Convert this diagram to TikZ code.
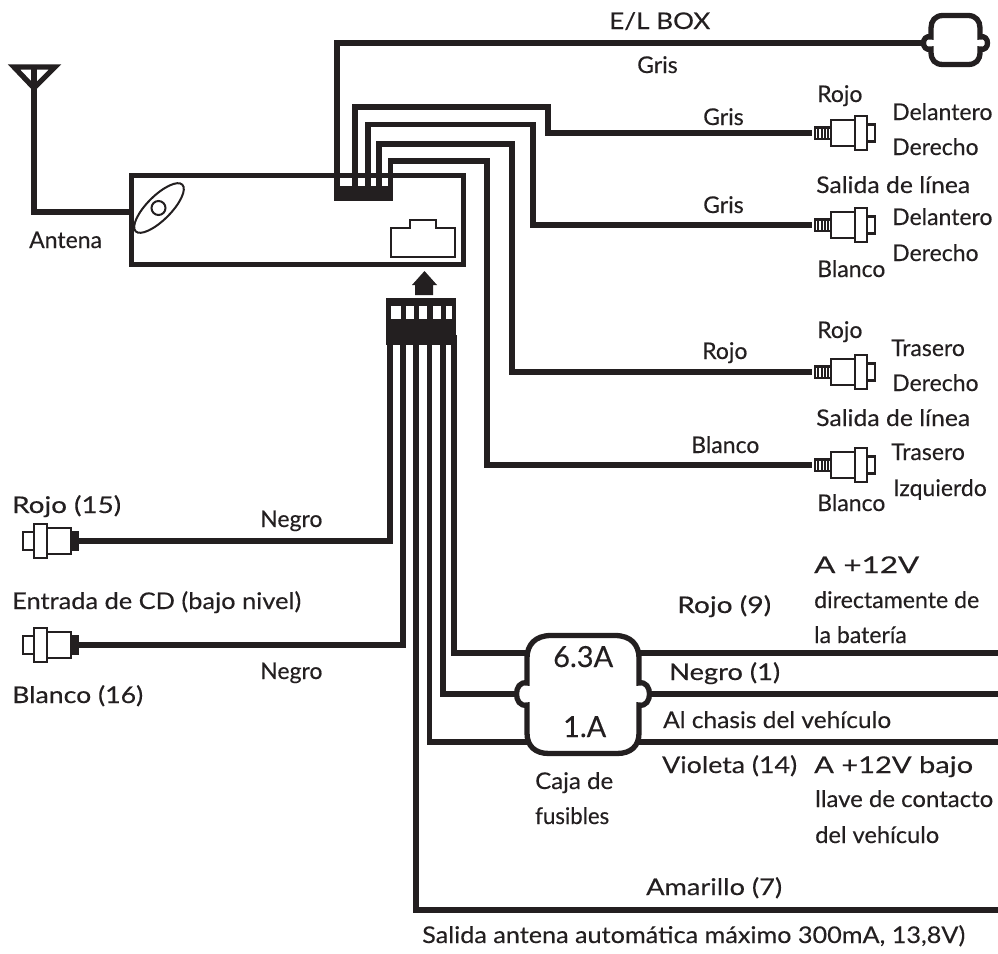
\documentclass[tikz,border=0pt]{standalone}
\usepackage{graphicx}
\usepackage{fontspec}
\setmainfont{Lato}[FakeBold=0.25]
\definecolor{ink}{HTML}{231F20}
\newcommand\fitw[2]{\resizebox{#1pt}{\height}{#2}}
\tikzset{
 x=1pt,y=-1pt,
 wire/.style={line width=5.3pt,draw=ink,line join=miter},
 lbl/.style={text=ink,font=\fontsize{23}{26}\selectfont,inner sep=0pt,anchor=base west},
 fuselbl/.style={lbl,font=\fontsize{29}{32}\selectfont},
 jackbody/.style={line width=2.2pt,draw=ink,fill=white},
 jackright/.pic={
  \foreach \i in {0,1,2,3,4}{\fill[ink] (\i*3.3,-7) rectangle ++(2,14);}
  \fill[ink] (0,-7) rectangle (17,-4.5); \fill[ink] (0,4.5) rectangle (17,7);
  \draw[jackbody] (17,-13) rectangle (41,13);
  \draw[jackbody] (41,-17) rectangle (53,17);
  \draw[jackbody] (53,-8.5) rectangle (61,8.5);
 },
 jackleft/.pic={
  \fill[ink] (-8,-10) rectangle (0,10);
  \draw[jackbody] (-32,-13) rectangle (-8,13);
  \draw[jackbody] (-45,-17) rectangle (-32,17);
  \draw[jackbody] (-56,-9) rectangle (-45,9);
 },
}
\begin{document}
\begin{tikzpicture}
\useasboundingbox (0,0) rectangle (998,953);
% named wire ends
\coordinate (ant) at (34,67);
\coordinate (radioL) at (131,212);
\foreach \n/\x in {a/337,b/355,c/368,d/379,e/390.5}{\coordinate (top\n) at (\x,190);}
\coordinate (elbox) at (926,43);
\coordinate (j1) at (812,133); \coordinate (j2) at (812,225);
\coordinate (j3) at (812,372); \coordinate (j4) at (812,465);
\coordinate (jl1) at (79,541); \coordinate (jl2) at (79,645);
\foreach \n/\x in {p/390,q/403,r/416,s/429.5,t/443,u/454}{\coordinate (bot\n) at (\x,335);}
\coordinate (amarilloEnd) at (998,910);
\coordinate (fuseTopR) at (998,653);\coordinate (fuseMidR) at (998,694);\coordinate (fuseLowR) at (998,742);
\coordinate (fuseTopL) at (530,653);\coordinate (fuseMidL) at (520,694);\coordinate (fuseLowL) at (530,742);
% antenna
\draw[wire] (radioL) -| (ant);
\draw[wire,fill=none,miter limit=10] (14,67) -- (55,67) -- (34,88) -- cycle;
% radio
\node[draw=ink,line width=5.3pt,fill=white,minimum width=332pt,minimum height=89pt,inner sep=0pt] (radio) at (297.5,220) {};
\draw[ink,line width=2pt,rotate around={45:(159,208)}] (159,208) ellipse (33 and 12);
\draw[ink,line width=2pt] (158.5,208) circle (7);
\draw[ink,line width=2pt,fill=white] (391,257) -- (391,228) -- (409.5,228) -- (409.5,220) -- (436,220) -- (436,228) -- (455,228) -- (455,257) -- cycle;
% top wires
\draw[wire] (topa) |- (elbox);
\draw[wire] (topb) |- (548,107) |- (j1);
\draw[wire] (topc) |- (533,124.5) |- (j2);
\draw[wire] (topd) |- (512,144) |- (j3);
\draw[wire] (tope) |- (487,161) |- (j4);
\fill[ink] (334,186) rectangle (393,201);
% E/L box
\draw[ink,line width=5.3pt,fill=white] (943,15.5) -- (968,15.5) .. controls (976,15.5) and (980,21) .. (980,28) -- (980,37) .. controls (990,34) and (990,52) .. (980,49) -- (980,52) .. controls (980,60) and (976,64.5) .. (968,64.5) -- (943,64.5) .. controls (935,64.5) and (931,60) .. (931,52) -- (931,49) .. controls (921,52) and (921,34) .. (931,37) -- (931,28) .. controls (931,21) and (935,15.5) .. (943,15.5) -- cycle;
% jacks
\foreach \c in {j1,j2,j3,j4}{\path (\c) ++(2,0) pic {jackright};}
\path (jl1) pic {jackleft};
\path (jl2) pic {jackleft};
% plug
\fill[ink] (412,285) -- (424.5,271) -- (437,285) -- (433,285) -- (433,295) -- (415,295) -- (415,285) -- cycle;
\fill[ink] (386,298) rectangle (456,345);
\foreach \x/\w in {391/10,406/7.5,419/8,433/7.5,446/6}{\fill[white] (\x,306) rectangle ++(\w,13);}
% bottom wires
\draw[wire] (botp) |- (jl1);
\draw[wire] (botq) |- (jl2);
\draw[wire] (botr) |- (amarilloEnd);
\draw[wire] (bots) |- (fuseLowL);
\draw[wire] (bott) |- (fuseMidL);
\draw[wire] (botu) |- (fuseTopL);
\draw[wire] (635,653) -- (fuseTopR);
\draw[wire] (645,694) -- (fuseMidR);
\draw[wire] (635,742) -- (fuseLowR);
% fuse box
\draw[ink,line width=5.3pt,fill=white] (551,635.5) -- (615,635.5) .. controls (631,635.5) and (639,645) .. (639,658) -- (639,683) .. controls (653,680) and (653,708) .. (639,705) -- (639,733) .. controls (639,746) and (631,753.5) .. (617,753.5) -- (549,753.5) .. controls (535,753.5) and (527,746) .. (527,733) -- (527,705) .. controls (513,708) and (513,680) .. (527,683) -- (527,658) .. controls (527,645) and (535,635.5) .. (551,635.5) -- cycle;
% labels
\node[lbl] (l1) at (609,29) {\fitw{101}{E/L BOX}};
\node[lbl] (l2) at (637,73) {Gris};
\node[lbl] (l3) at (703,125) {Gris};
\node[lbl] (l4) at (703,213) {Gris};
\node[lbl] (l5) at (702,359) {Rojo};
\node[lbl] (l6) at (691,453) {Blanco};
\node[lbl] (l7) at (817,102) {Rojo};
\node[lbl] (l8) at (892,120) {Delantero};
\node[lbl] (l9) at (892,155) {Derecho};
\node[lbl] (l10) at (816,193) {\fitw{154}{Salida de línea}};
\node[lbl] (l11) at (892,225) {Delantero};
\node[lbl] (l12) at (892,261) {Derecho};
\node[lbl] (l13) at (817,277) {Blanco};
\node[lbl] (l14) at (817,338) {Rojo};
\node[lbl] (l15) at (891,356) {Trasero};
\node[lbl] (l16) at (892,391) {Derecho};
\node[lbl] (l17) at (816,426) {\fitw{154}{Salida de línea}};
\node[lbl] (l18) at (891,460) {Trasero};
\node[lbl] (l19) at (893,496) {Izquierdo};
\node[lbl] (l20) at (817,511) {Blanco};
\node[lbl] (l21) at (29,248) {Antena};
\node[lbl] (l22) at (12,513) {\fitw{109}{Rojo (15)}};
\node[lbl] (l23) at (260,527) {Negro};
\node[lbl] (l24) at (12,609) {\fitw{289}{Entrada de CD (bajo nivel)}};
\node[lbl] (l25) at (260,679) {Negro};
\node[lbl] (l26) at (12,703) {\fitw{131}{Blanco (16)}};
\node[lbl] (l27) at (814,573) {\fitw{105}{A +12V}};
\node[lbl] (l28) at (814,608) {\fitw{165}{directamente de}};
\node[lbl] (l29) at (814,643) {la batería};
\node[lbl] (l30) at (677,613) {\fitw{94}{Rojo (9)}};
\node[lbl] (l31) at (669,680) {\fitw{111}{Negro (1)}};
\node[lbl] (l32) at (663,728) {\fitw{228}{Al chasis del vehículo}};
\node[lbl] (l33) at (662,773) {\fitw{135}{Violeta (14)}};
\node[lbl] (l34) at (814,773) {\fitw{159}{A +12V bajo}};
\node[lbl] (l37) at (815,807) {\fitw{178}{llave de contacto}};
\node[lbl] (l38) at (815,843) {\fitw{124}{del vehículo}};
\node[fuselbl] (l39) at (553,667) {\fitw{60}{6.3A}};
\node[fuselbl] (l40) at (563,737) {\fitw{43}{1.A}};
\node[lbl] (l41) at (535,789) {\fitw{78}{Caja de}};
\node[lbl] (l42) at (535,824) {\fitw{74}{fusibles}};
\node[lbl] (l43) at (646,895) {\fitw{136}{Amarillo (7)}};
\node[lbl] (l44) at (422,943) {\fitw{543}{Salida antena automática máximo 300mA, 13,8V)}};
\end{tikzpicture}
\end{document}
